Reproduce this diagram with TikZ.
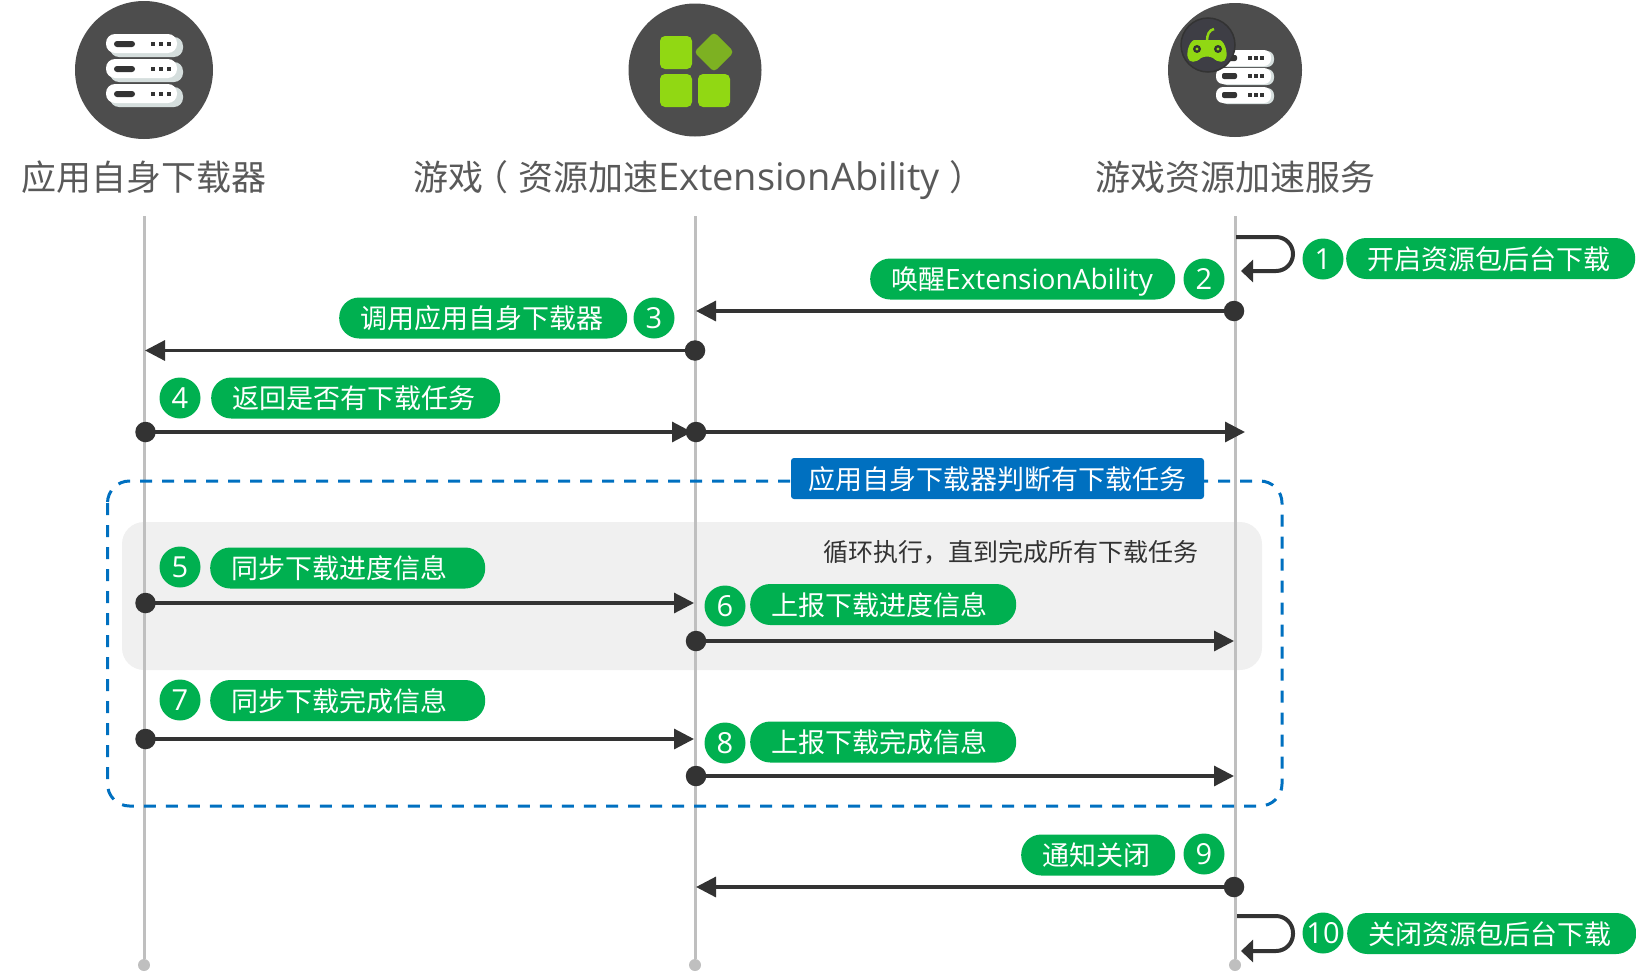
\documentclass[tikz,border=0pt]{standalone}
\usepackage{fontspec}
\setmainfont{Noto Sans CJK SC}
\newfontfamily\latinfont{Open Sans}
\usetikzlibrary{%
  arrows.meta,%
  positioning,%
  calc%
}
\definecolor{pillgreen}{HTML}{00B050}
\definecolor{boxblue}{HTML}{0070C0}
\definecolor{inkdark}{HTML}{333333}
\definecolor{iconbg}{HTML}{4D4D4D}
\definecolor{padbg}{HTML}{3E3E45}
\definecolor{lifegray}{HTML}{BFBFBF}
\definecolor{panelgray}{HTML}{F0F0F0}
\definecolor{titlegray}{HTML}{595959}
\definecolor{lime}{HTML}{91D813}
\definecolor{limedark}{HTML}{7DB122}
\definecolor{shadowgray}{HTML}{D5DEDD}
\begin{document}
\begin{tikzpicture}
[x=1pt, y=-1pt, >={Triangle[length=20pt,width=20pt]},
msg/.style={draw=inkdark, line width=3.2pt, ->},
selfmsg/.style={draw=inkdark, line width=4pt, rounded corners=17pt, -{Triangle[length=12pt,width=22pt]}},
life/.style={draw=lifegray, line width=3pt},
lifeend/.style={circle, fill=lifegray, inner sep=0pt, minimum size=12pt},
msgdot/.style={circle, fill=inkdark, inner sep=0pt, minimum size=20.5pt},
numdot/.style={circle, fill=pillgreen, text=white, inner sep=0pt, minimum size=41pt, font=\latinfont\fontsize{29}{32}\selectfont},
pill/.style={rectangle, anchor=west, fill=pillgreen, text=white, rounded corners=20pt, inner ysep=0pt, inner xsep=21pt, minimum height=41pt, align=flush left, text height=24pt, text depth=3pt, font=\fontsize{27}{30}\selectfont},
headline/.style={text=titlegray, inner sep=0pt, text height=31pt, text depth=5pt, font=\fontsize{35}{40}\selectfont},
iconcircle/.style={circle, fill=iconbg, inner sep=0pt}]

\useasboundingbox (0,0) rectangle (1636,972);

% grey loop panel and lifelines
\node[rectangle, fill=panelgray, rounded corners=22pt, inner sep=0pt, minimum width=1140pt, minimum height=148pt] (looppanel) at (692,596) {};

\foreach \v/\n in {144/a,695/b,1235/c} {
  \node[lifeend] (foot\n) at (\v,965) {};
  \coordinate (head\n) at (\v,216);
  \draw[life] (head\n) -- (foot\n);
}

% dashed frame
\draw[draw=boxblue, line width=3pt, dash pattern=on 12pt off 10pt, rounded corners=22pt] (107.5,481) rectangle (1282,806);
\node[rectangle, fill=boxblue, text=white, rounded corners=3pt, inner sep=0pt, minimum width=413pt, minimum height=41pt, text height=24pt, text depth=3pt, font=\fontsize{27}{30}\selectfont] (framelabel) at (997.5,478.5) {应用自身下载器判断有下载任务};
\node[text=inkdark, inner sep=0pt, font=\fontsize{25}{28}\selectfont] (looptext) at (1011,552) {循环执行，直到完成所有下载任务};

% icons
\node[iconcircle, minimum size=138pt] (iconapp) at (144,70) {};
\node[iconcircle, minimum size=133pt] (icongame) at (695,70) {};
\node[iconcircle, minimum size=134pt] (iconsvc) at (1235,70) {};

\foreach \p in {44,69,94} {
  \fill[shadowgray, rounded corners=9pt] (110,\p-7) rectangle (183,\p+13);
  \fill[white, rounded corners=9pt] (106,\p-10) rectangle (177,\p+9);
  \fill[inkdark, rounded corners=3pt] (114,\p-3) rectangle (135,\p+3);
  \foreach \d in {153,161,169} {
    \fill[inkdark] (\d-2,\p-2) rectangle (\d+2,\p+2);
  }
}

\fill[lime, rounded corners=5pt] (660,36) rectangle (692,69);
\fill[lime, rounded corners=5pt] (660,74) rectangle (692,107);
\fill[lime, rounded corners=5pt] (698,74) rectangle (730,107);
\fill[limedark, rounded corners=4pt] (714,32) -- (734,52) -- (714,72) -- (694,52) -- cycle;

\foreach \p in {58,76,95} {
  \fill[shadowgray, rounded corners=7pt] (1220,\p-7) rectangle (1274,\p+9);
  \fill[white, rounded corners=7pt] (1216,\p-8) rectangle (1271,\p+8);
  \fill[inkdark, rounded corners=2pt] (1222,\p-3) rectangle (1237,\p+3);
  \foreach \d in {1250,1256,1262} {
    \fill[inkdark] (\d-2,\p-2) rectangle (\d+2,\p+2);
  }
}
\node[circle, fill=padbg, draw=black!80, line width=1.5pt, inner sep=0pt, minimum size=54pt] (padcircle) at (1208,45) {};
\draw[lime, line width=2.5pt] (1207,41) .. controls (1207,35) and (1209,30) .. (1214,29);
\fill[lime] (1194,40) -- (1220,40) .. controls (1225,42) and (1228,53) .. (1226,58) .. controls (1225,63) and (1218,63) .. (1213,58) .. controls (1209,56) and (1205,56) .. (1201,58) .. controls (1196,63) and (1189,63) .. (1188,58) .. controls (1186,53) and (1189,42) .. (1194,40) -- cycle;
\foreach \v in {1197,1218} {
  \fill[inkdark] (\v,49) circle (4pt);
  \fill[lime] (\v,49) circle (1.7pt);
}

% titles
\node[headline] (titleapp) at (144,177) {应用自身下载器};
\node[headline] (titlegame) at (694,177) {游戏\kern-10pt（\kern10pt资源加速{\latinfont\fontsize{38}{40}\selectfont ExtensionAbility}\kern10pt）\kern-10pt};
\node[headline] (titlesvc) at (1235,177) {游戏资源加速服务};

% message ends
\foreach \n/\x/\y in {2/1234/311, 3/695/350.5, 4/145.5/432, 41/696/432, 5/145.5/603, 6/696/641, 7/145.5/739, 8/696/776, 9/1234/887} {
  \coordinate (dot\n) at (\x,\y);
}
\foreach \n/\x/\y in {2/696/311, 3/145/350.5, 4/692/432, 41/1245/432, 5/694/603, 6/1234/641, 7/694/739, 8/1234/776, 9/696/887} {
  \coordinate (tip\n) at (\x,\y);
}
\foreach \n in {2,3,4,41,5,6,7,8,9} {
  \draw[msg] (dot\n) -- (tip\n);
}
\foreach \n in {2,3,4,41,5,6,7,8,9} {
  \node[msgdot] (msgdot\n) at (dot\n) {};
}

% self messages
\coordinate (self1a) at (1236,237);
\coordinate (self1b) at (1293,237);
\coordinate (self1c) at (1293,271);
\coordinate (self1d) at (1241,271);
\coordinate (self10a) at (1237,916);
\coordinate (self10b) at (1293,916);
\coordinate (self10c) at (1293,951);
\coordinate (self10d) at (1241,951);
\draw[selfmsg] (self1a) -- (self1b) -- (self1c) -- (self1d);
\draw[selfmsg] (self10a) -- (self10b) -- (self10c) -- (self10d);

% numbers
\foreach \c/\x/\y in {1/1323/259, 2/1204/279, 3/654/318, 4/180/398, 5/180/567, 6/725/606, 7/180/700, 8/725/743, 9/1204/854, 10/1323/933} {
  \node[numdot] (num\c) at (\x,\y) {\c};
}

% labels
\foreach \c/\x/\y/\w/\t in {%
  1/1346/258.5/247/开启资源包后台下载,
  2/870/279/263/唤醒{\latinfont\fontsize{28}{30}\selectfont ExtensionAbility},
  3/339/318/246/调用应用自身下载器,
  4/211/398/247/返回是否有下载任务,
  5/210/568/233/同步下载进度信息,
  6/750/604.5/224/上报下载进度信息,
  7/210/700.5/233/同步下载完成信息,
  8/750/742/224/上报下载完成信息,
  9/1021/855/112/通知关闭,
  10/1347/933.5/247/关闭资源包后台下载} {
  \node[pill, text width=\w pt] (label\c) at (\x,\y) {\t};
}
\end{tikzpicture}
\end{document}
